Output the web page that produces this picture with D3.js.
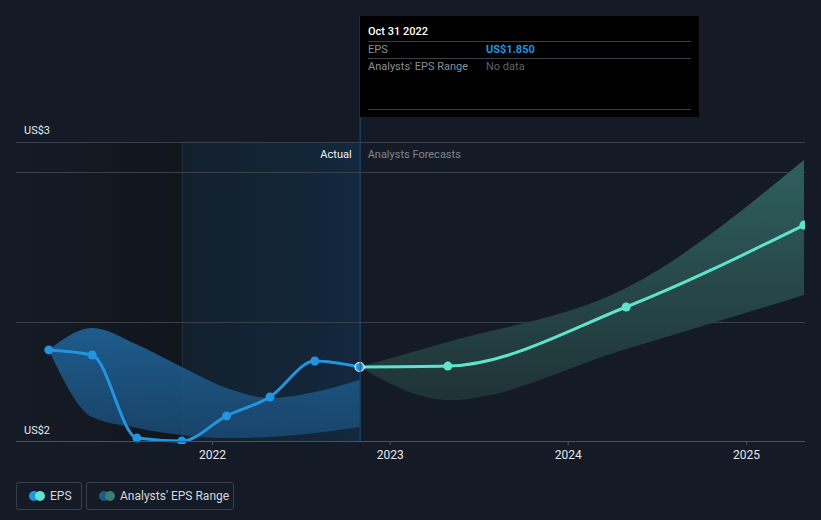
<!DOCTYPE html>
<html><head><meta charset="utf-8">
<script src="https://cdn.jsdelivr.net/npm/d3@7"></script>
<style>
html,body{margin:0;padding:0;background:#151b26;}
svg{display:block;font-family:Roboto,"Noto Sans",sans-serif;}
</style></head>
<body>
<svg id="c" width="821" height="520"></svg>
<script>
// ---- data ----
const pastDates = ["2021-01-31","2021-04-30","2021-07-31","2021-10-31","2022-01-31","2022-04-30","2022-07-31","2022-10-31"];
const pastEPS   = [1.907, 1.890, 1.613, 1.603, 1.687, 1.750, 1.870, 1.850];
const pastHigh  = [1.907, 1.980, 1.925, 1.850, 1.780, 1.747, 1.767, 1.807];
const pastLow   = [1.907, 1.683, 1.647, 1.623, 1.613, 1.617, 1.630, 1.650];
const fcDates   = ["2022-10-31","2023-04-30","2024-04-30","2025-04-30"];
const fcEPS     = [1.850, 1.853, 2.050, 2.323];
const fcHigh    = [1.850, 1.933, 2.113, 2.540];
const fcLow     = [1.850, 1.740, 1.910, 2.090];
const yearTicks = ["2022","2023","2024","2025"];
const yGrid     = [2.0, 2.5, 2.6];
const yLabels   = [{v:2.6, t:"US$3"}, {v:1.6, t:"US$2"}];

const parse = d3.utcParse("%Y-%m-%d");
const svg = d3.select("#c");
const L = 16, R = 805, T = 142, B = 442;

const x0 = d3.scaleUtc().domain([parse("2022-01-01"), parse("2025-01-01")]).range([212, 746]);
const x = d3.scaleUtc().domain([x0.invert(L), x0.invert(R)]).range([L, R]);
const y = d3.scaleLinear().domain([1.6, 2.6]).range([B, T]);

const past = pastDates.map((d,i)=>({d:parse(d), v:pastEPS[i], h:pastHigh[i], l:pastLow[i]}));
const fc = fcDates.map((d,i)=>({d:parse(d), v:fcEPS[i], h:fcHigh[i], l:fcLow[i]}));
const now = parse("2022-10-31");
const actualStart = parse("2021-10-31");

const defs = svg.append("defs");
const g1 = defs.append("linearGradient").attr("id","darkL").attr("x1",0).attr("x2",1).attr("y1",0).attr("y2",0);
g1.append("stop").attr("offset",0).attr("stop-color","#151b26");
g1.append("stop").attr("offset",1).attr("stop-color","#11151c");
const g2 = defs.append("linearGradient").attr("id","actG").attr("x1",0).attr("x2",1).attr("y1",0).attr("y2",0);
g2.append("stop").attr("offset",0).attr("stop-color","#13202c");
g2.append("stop").attr("offset",1).attr("stop-color","#12283e");
const g3 = defs.append("linearGradient").attr("id","pastBand").attr("x1",0).attr("x2",0).attr("y1",0).attr("y2",1);
g3.append("stop").attr("offset",0).attr("stop-color","#1e5f92").attr("stop-opacity",0.95);
g3.append("stop").attr("offset",1).attr("stop-color","#1a4a73").attr("stop-opacity",0.85);
const g4 = defs.append("linearGradient").attr("id","fcBand").attr("x1",0).attr("x2",0).attr("y1",0).attr("y2",1);
g4.append("stop").attr("offset",0).attr("stop-color","#2f5f5e");
g4.append("stop").attr("offset",1).attr("stop-color","#1f3336");
defs.append("clipPath").attr("id","plotClip").append("rect").attr("x",L).attr("y",0).attr("width",R-L).attr("height",B+2);

// background regions
svg.append("rect").attr("x",L).attr("y",T).attr("width",x(actualStart)-L).attr("height",B-T).attr("fill","url(#darkL)");
svg.append("rect").attr("x",x(actualStart)).attr("y",T).attr("width",x(now)-x(actualStart)).attr("height",B-T).attr("fill","url(#actG)");
svg.append("line").attr("x1",Math.round(x(actualStart))+0.5).attr("x2",Math.round(x(actualStart))+0.5).attr("y1",T).attr("y2",B)
  .attr("stroke","#18303f").attr("stroke-width",1);

// grid
svg.selectAll("line.grid").data(yGrid).enter().append("line")
  .attr("x1",L).attr("x2",R).attr("y1",d=>Math.round(y(d))+0.5).attr("y2",d=>Math.round(y(d))+0.5)
  .attr("stroke","#3a404b").attr("stroke-width",1);

// y labels
svg.selectAll("text.yl").data(yLabels).enter().append("text")
  .attr("x",24).attr("y",d=>y(d.v)-8).attr("fill","#e6e8eb").attr("font-size",11).text(d=>d.t);

const plot = svg.append("g").attr("clip-path","url(#plotClip)");
const curve = d3.curveMonotoneX;

// bands
plot.append("path").datum(past).attr("fill","url(#pastBand)")
  .attr("d", d3.area().curve(curve).x(d=>x(d.d)).y0(d=>y(d.l)).y1(d=>y(d.h)));
plot.append("path").datum(fc).attr("fill","url(#fcBand)")
  .attr("d", d3.area().curve(curve).x(d=>x(d.d)).y0(d=>y(d.l)).y1(d=>y(d.h)));

// now line
svg.append("line").attr("x1",x(now)+0.5).attr("x2",x(now)+0.5).attr("y1",16).attr("y2",B)
  .attr("stroke","#1f4f78").attr("stroke-width",1);

// lines
plot.append("path").datum(fc).attr("fill","none").attr("stroke","#5fe3cd").attr("stroke-width",3)
  .attr("d", d3.line().curve(curve).x(d=>x(d.d)).y(d=>y(d.v)));
plot.append("path").datum(past).attr("fill","none").attr("stroke","#2394df").attr("stroke-width",3)
  .attr("d", d3.line().curve(curve).x(d=>x(d.d)).y(d=>y(d.v)));

plot.selectAll("circle.f").data(fc.slice(1)).enter().append("circle")
  .attr("cx",d=>x(d.d)).attr("cy",d=>y(d.v)).attr("r",4.5).attr("fill","#5fe3cd");
plot.selectAll("circle.p").data(past.slice(0,-1)).enter().append("circle")
  .attr("cx",d=>x(d.d)).attr("cy",d=>y(d.v)).attr("r",4.5).attr("fill","#2394df");
const lastP = past[past.length-1];
plot.append("circle").attr("cx",x(lastP.d)).attr("cy",y(lastP.v)).attr("r",4.5)
  .attr("fill","#2394df").attr("stroke","#ffffff").attr("stroke-width",1.2);

// x axis
svg.append("line").attr("x1",L).attr("x2",R).attr("y1",B-0.5).attr("y2",B-0.5).attr("stroke","#4b505a");
const ax = svg.append("g").attr("transform",`translate(0,${B-1})`)
  .call(d3.axisBottom(x).tickValues(yearTicks.map(t=>parse(t+"-01-01"))).tickFormat(d3.utcFormat("%Y")).tickSize(4).tickPadding(5));
ax.select(".domain").remove();
ax.selectAll("line").attr("stroke","#4b505a");
ax.selectAll("text").attr("fill","#e6e8eb").attr("font-size",12).attr("font-family","Roboto,sans-serif");

// Actual / forecasts labels
svg.append("text").attr("x",x(now)-8).attr("y",158).attr("text-anchor","end").attr("fill","#f0f2f4").attr("font-size",11).text("Actual");
svg.append("text").attr("x",x(now)+8).attr("y",158).attr("fill","#7e848d").attr("font-size",11).text("Analysts Forecasts");

// tooltip
const tt = svg.append("g");
tt.append("rect").attr("x",360).attr("y",16).attr("width",339).attr("height",101).attr("fill","#000000");
tt.append("text").attr("x",368).attr("y",35).attr("fill","#ffffff").attr("font-size",11).attr("font-weight",500).text("Oct 31 2022");
[41,58,109].forEach(yy=>tt.append("line").attr("x1",368).attr("x2",691).attr("y1",yy+0.5).attr("y2",yy+0.5).attr("stroke","#3c3f44"));
tt.append("text").attr("x",368).attr("y",53).attr("fill","#8a8f96").attr("font-size",11).text("EPS");
tt.append("text").attr("x",486).attr("y",53).attr("fill","#2394df").attr("font-size",11).attr("font-weight",700).text("US$" + d3.format(".3f")(lastP.v));
tt.append("text").attr("x",368).attr("y",70).attr("fill","#8a8f96").attr("font-size",11).text("Analysts' EPS Range");
tt.append("text").attr("x",486).attr("y",70).attr("fill","#5f6369").attr("font-size",11).text("No data");

// legend
const lg = svg.append("g");
const items = [{x:16,w:65,c1:"#2394df",c2:"#5fe3cd",t:"EPS"},{x:86,w:147,c1:"#1f5a85",c2:"#3b7d74",t:"Analysts' EPS Range"}];
items.forEach(it=>{
  lg.append("rect").attr("x",it.x+0.5).attr("y",482.5).attr("width",it.w).attr("height",27).attr("rx",2)
    .attr("fill","none").attr("stroke","#3a3f4a");
  lg.append("circle").attr("cx",it.x+18).attr("cy",496).attr("r",5).attr("fill",it.c1);
  lg.append("circle").attr("cx",it.x+24).attr("cy",496).attr("r",5).attr("fill",it.c2);
  lg.append("text").attr("x",it.x+34).attr("y",500).attr("fill","#d5d8dc").attr("font-size",12).text(it.t);
});
</script>
</body></html>
